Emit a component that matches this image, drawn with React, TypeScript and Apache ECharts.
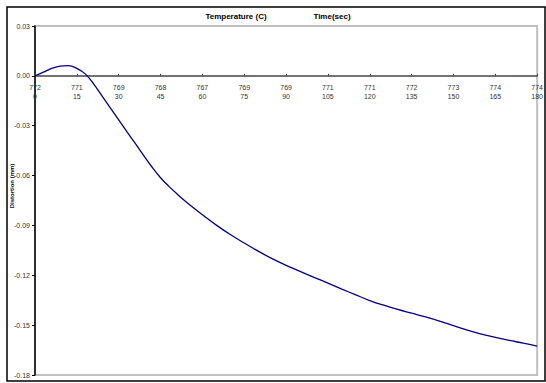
import React, { useEffect, useRef } from "react";
import * as echarts from "echarts";

const timeTicks = [0, 15, 30, 45, 60, 75, 90, 105, 120, 135, 150, 165, 180];
const tempLabels = ["772", "771", "769", "768", "767", "769", "769", "771", "771", "772", "773", "774", "774"];
const yTicks = [-0.18, -0.15, -0.12, -0.09, -0.06, -0.03, 0, 0.03];

const timeSec = [0, 3, 6, 9, 12, 15, 18, 21, 24, 27, 30, 33, 36, 39, 42, 45, 48, 51, 54, 57, 60, 65, 70, 75, 80, 85, 90, 95, 100, 105, 110, 115, 120, 125, 130, 135, 140, 145, 150, 155, 160, 165, 170, 175, 180];
const distortion = [0, 0.0022, 0.0045, 0.0058, 0.0062, 0.0045, 0.0012, -0.0048, -0.012, -0.0193, -0.0265, -0.0337, -0.0408, -0.048, -0.055, -0.0613, -0.0665, -0.0712, -0.0756, -0.0797, -0.0836, -0.0898, -0.0955, -0.1006, -0.1055, -0.11, -0.114, -0.1176, -0.1212, -0.1247, -0.1283, -0.1318, -0.1352, -0.138, -0.1405, -0.1428, -0.1451, -0.1476, -0.1503, -0.153, -0.1554, -0.1574, -0.1592, -0.1608, -0.1626];

const W = 546;
const H = 383;
const GRID = { left: 35, top: 26, right: 5, bottom: 8 };

export default function App() {
  const ref = useRef<HTMLDivElement>(null);
  useEffect(() => {
    const chart = echarts.init(ref.current!, null, { renderer: "svg" });
    const font = "Arial, 'Liberation Sans', sans-serif";
    const yMin = yTicks[0];
    const yMax = yTicks[yTicks.length - 1];
    const plotH = H - GRID.top - GRID.bottom;
    const zeroOffset = -plotH * ((0 - yMin) / (yMax - yMin));
    chart.setOption({
      animation: false,
      backgroundColor: "#ffffff",
      grid: {
        ...GRID,
        show: true, borderColor: "#c0c0c0", borderWidth: 2, backgroundColor: "transparent",
      },
      graphic: [
        { type: "rect", shape: { x: 7, y: 7, width: 538, height: 374 }, style: { fill: "none", stroke: "#000", lineWidth: 1.5 }, z: 100 },
        { type: "text", x: 236, y: 16, style: { text: "Temperature (C)", font: `bold 8px ${font}`, fill: "#000", align: "center", verticalAlign: "middle" } },
        { type: "text", x: 332, y: 16, style: { text: "Time(sec)", font: `bold 8px ${font}`, fill: "#000", align: "center", verticalAlign: "middle" } },
        { type: "text", x: 12, y: 186, rotation: Math.PI / 2, style: { text: "Distortion (mm)", font: `bold 6px ${font}`, fill: "#000", align: "center", verticalAlign: "middle" } },
      ],
      xAxis: {
        type: "value",
        position: "bottom",
        offset: zeroOffset,
        min: 0, max: 180, interval: 15,
        axisLine: { onZero: false, lineStyle: { color: "#444", width: 1.5 } },
        axisTick: { show: true, inside: true, length: 2, lineStyle: { color: "#444" } },
        splitLine: { show: false },
        axisLabel: {
          margin: 7,
          fontSize: 7, lineHeight: 9, color: "#333", fontFamily: font,
          formatter: (v: number) => {
            const i = timeTicks.indexOf(v);
            return i >= 0 ? `${tempLabels[i]}\n${v}` : "";
          },
        },
      },
      yAxis: {
        type: "value",
        min: yMin, max: yMax, interval: 0.03,
        axisLine: { show: true, lineStyle: { color: "#000", width: 1.5 } },
        axisTick: { show: true, length: 3, lineStyle: { color: "#000" } },
        splitLine: { show: false },
        axisLabel: {
          margin: 5, fontSize: 7, color: "#333", fontFamily: font,
          formatter: (v: number) => (Math.abs(v) < 1e-9 ? "0.00" : v.toFixed(2)),
        },
      },
      series: [
        {
          type: "line",
          data: timeSec.map((t, i) => [t, distortion[i]]),
          showSymbol: false,
          smooth: 0.4,
          lineStyle: { color: "#000080", width: 1.3 },
        },
      ],
    });
    return () => chart.dispose();
  }, []);
  return <div ref={ref} style={{ width: W, height: H, position: "absolute", left: 0, top: 0 }} />;
}
